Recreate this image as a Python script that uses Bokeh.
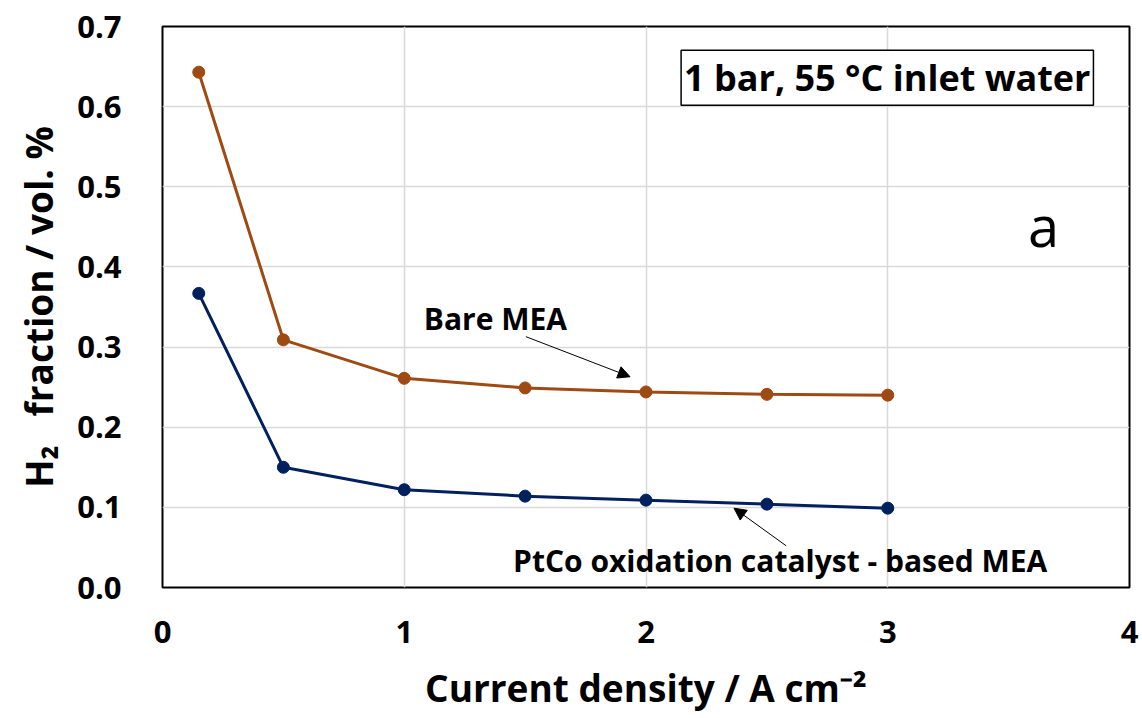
from bokeh.plotting import figure
from bokeh.models import (ColumnDataSource, Label, Arrow, NormalHead, FixedTicker,
                          NumeralTickFormatter, Range1d)
from bokeh.embed import file_html
from bokeh.resources import INLINE

# ---- data ----
current_density = [0.15, 0.5, 1.0, 1.5, 2.0, 2.5, 3.0]
bare_mea = [0.643, 0.309, 0.261, 0.249, 0.244, 0.241, 0.240]
ptco_mea = [0.367, 0.150, 0.122, 0.114, 0.109, 0.104, 0.099]
x_ticks = [0, 1, 2, 3, 4]
y_ticks = [0.0, 0.1, 0.2, 0.3, 0.4, 0.5, 0.6, 0.7]

ORANGE = "#9E4A12"
NAVY = "#002060"
FONT = "Open Sans"

p = figure(frame_width=967, frame_height=561, min_border_left=162, min_border_right=13,
           min_border_top=26, min_border_bottom=131, output_backend="svg",
           toolbar_location=None, x_range=Range1d(0, 4), y_range=Range1d(0, 0.7))
p.background_fill_color = "white"
p.border_fill_color = "white"
p.outline_line_color = "black"
p.outline_line_width = 2

for ax in (p.xaxis[0], p.yaxis[0]):
    ax.axis_line_color = None
    ax.major_tick_line_color = None
    ax.minor_tick_line_color = None
    ax.major_label_text_font = FONT
    ax.major_label_text_font_style = "bold"
    ax.major_label_text_font_size = "31px"
    ax.major_label_text_color = "black"
    ax.axis_label_text_font = FONT
    ax.axis_label_text_font_style = "bold"
    ax.axis_label_text_font_size = "37px"
    ax.axis_label_text_color = "black"

p.xaxis.ticker = FixedTicker(ticks=x_ticks)
p.yaxis.ticker = FixedTicker(ticks=y_ticks)
p.xaxis.formatter = NumeralTickFormatter(format="0")
p.yaxis.formatter = NumeralTickFormatter(format="0.0")
p.xaxis.major_label_standoff = 27
p.yaxis.major_label_standoff = 35
p.xaxis.axis_label = "Current density / A cm\u207b\u00b2"
p.yaxis.axis_label = "H\u2082\u00a0\u00a0 fraction / vol. %"
p.xaxis.axis_label_standoff = 16
p.yaxis.axis_label_standoff = 10

p.xgrid.ticker = FixedTicker(ticks=x_ticks)
p.ygrid.ticker = FixedTicker(ticks=y_ticks)
p.grid.grid_line_color = "#D9D9D9"
p.grid.grid_line_width = 1.5

src = ColumnDataSource(dict(x=current_density, bare=bare_mea, ptco=ptco_mea))
p.line("x", "bare", source=src, line_color=ORANGE, line_width=3)
p.scatter("x", "bare", source=src, size=12, fill_color=ORANGE, line_color=ORANGE)
p.line("x", "ptco", source=src, line_color=NAVY, line_width=3)
p.scatter("x", "ptco", source=src, size=12, fill_color=NAVY, line_color=NAVY)

# annotations
p.add_layout(Label(x=1.081, y=0.336, text="Bare MEA", text_font=FONT, text_font_style="bold",
                   text_font_size="30px", text_baseline="middle", text_align="left",
                   text_color="black"))
p.add_layout(Arrow(x_start=1.503, y_start=0.313, x_end=1.934, y_end=0.263,
                   line_color="black", line_width=1,
                   end=NormalHead(size=12, fill_color="black", line_color="black")))
p.add_layout(Label(x=2.555, y=0.034, text="PtCo oxidation catalyst - based MEA", text_font=FONT,
                   text_font_style="bold", text_font_size="30px", text_baseline="middle",
                   text_align="center", text_color="black"))
p.add_layout(Arrow(x_start=2.580, y_start=0.052, x_end=2.364, y_end=0.099,
                   line_color="black", line_width=1,
                   end=NormalHead(size=12, fill_color="black", line_color="black")))
p.add_layout(Label(x=2.998, y=0.636, text="1 bar, 55 \u00b0C inlet water", text_font=FONT,
                   text_font_style="bold", text_font_size="36px", text_baseline="middle",
                   text_align="center", text_color="black", padding=3,
                   border_line_color="black", border_line_width=1.5,
                   background_fill_color="white"))
p.add_layout(Label(x=3.644, y=0.452, text="a", text_font=FONT, text_font_size="56px",
                   text_baseline="alphabetic", text_align="center", text_color="black"))

open("out.html", "w").write(file_html(p, INLINE))
